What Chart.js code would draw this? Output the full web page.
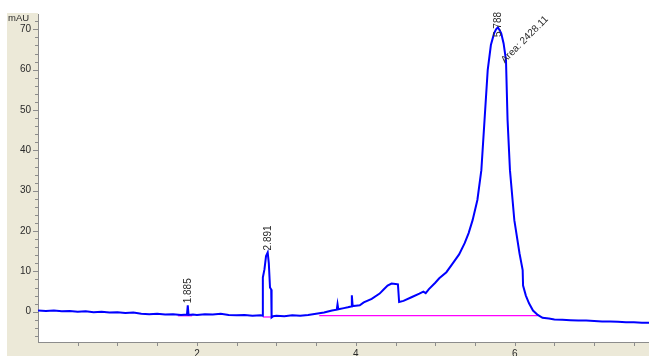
<!DOCTYPE html>
<html>
<head>
<meta charset="utf-8">
<script src="https://cdn.jsdelivr.net/npm/chart.js@4/dist/chart.umd.min.js"></script>
<style>
  html, body { margin: 0; padding: 0; background: #ffffff; }
  #wrap { width: 649px; height: 356px; }
</style>
</head>
<body>
<div id="wrap"><canvas id="c" width="649" height="356"></canvas></div>
<script>
// Detector trace: retention time (min) and absorbance (mAU)
const times = [
  0.00, 0.10, 0.20, 0.30, 0.40, 0.50, 0.60, 0.70, 0.80, 0.90,
  1.00, 1.10, 1.20, 1.30, 1.40, 1.50, 1.60, 1.70, 1.80, 1.875,
  1.885, 1.895, 1.95, 2.00, 2.10, 2.20, 2.30, 2.40, 2.50, 2.60,
  2.70, 2.80, 2.828, 2.830, 2.850, 2.870, 2.891, 2.905, 2.920, 2.935,
  2.940, 2.960, 3.00, 3.10, 3.20, 3.30, 3.40, 3.50, 3.60, 3.70,
  3.76, 3.77, 3.78, 3.85, 3.90, 3.94, 3.95, 3.96, 4.00, 4.05,
  4.10, 4.20, 4.30, 4.35, 4.40, 4.45, 4.50, 4.53, 4.545, 4.60,
  4.70, 4.80, 4.85, 4.88, 4.92, 5.00, 5.05, 5.14, 5.22, 5.30,
  5.37, 5.42, 5.47, 5.53, 5.58, 5.62, 5.66, 5.70, 5.74, 5.765,
  5.788, 5.81, 5.83, 5.86, 5.89, 5.91, 5.94, 5.995, 6.06, 6.10,
  6.105, 6.14, 6.18, 6.23, 6.29, 6.35, 6.43, 6.50, 6.60, 6.70,
  6.80, 6.90, 7.00, 7.10, 7.20, 7.30, 7.40, 7.50, 7.60, 7.69
];
const mAU = [
  0.3, 0.2, 0.3, 0.1, 0.2, 0.0, 0.1, -0.1, 0.0, -0.2,
  -0.1, -0.3, -0.2, -0.5, -0.6, -0.5, -0.7, -0.6, -0.8, -0.7,
  1.6, -0.8, -0.7, -0.8, -0.6, -0.7, -0.5, -0.8, -0.9, -0.8,
  -1.0, -0.9, -1.0, 8.5, 10.5, 13.8, 14.7, 12.0, 6.0, 5.5,
  -1.4, -1.1, -1.0, -1.1, -0.9, -1.0, -0.8, -0.5, -0.2, 0.3,
  0.5, 1.9, 0.6, 0.9, 1.1, 1.3, 4.1, 1.4, 1.5, 1.6,
  2.3, 3.2, 4.5, 5.5, 6.5, 7.0, 6.9, 6.8, 2.4, 2.7,
  3.6, 4.5, 5.0, 4.6, 5.6, 7.2, 8.3, 9.8, 12.0, 14.2,
  17.0, 19.5, 22.7, 27.7, 35.1, 47.5, 59.9, 66.1, 69.0, 70.0,
  70.5, 69.8, 69.0, 66.5, 62.4, 47.5, 35.1, 22.7, 14.5, 10.3,
  6.5, 4.0, 2.1, 0.3, -0.8, -1.5, -1.7, -1.9, -2.0, -2.1,
  -2.2, -2.2, -2.3, -2.4, -2.4, -2.5, -2.6, -2.6, -2.7, -2.7
];

// Integration baselines (start time, end time, level in mAU)
const baseStart = [1.76, 2.83, 3.54];
const baseEnd   = [1.94, 2.95, 6.29];
const baseLevel = [-1.0, -1.3, -0.95];

// Peak annotations
const peakTimes = [1.885, 2.891, 5.788];
const areaPeak = 5.788;
const areaValue = 2428.11;
const areaLabelLevel = 62;

// Axis tick values
const xLabelTicks = [2, 4, 6];
const yLabelStep = 10;

const BEIGE = '#ece9d8';
const AXIS = '#8c8c8c';
const TEXT = '#2a2a2a';

const trace = times.map((t, i) => ({ x: t, y: mAU[i] }));
const baselineSets = baseStart.map((s, i) => ({
  data: [{ x: s, y: baseLevel[i] }, { x: baseEnd[i], y: baseLevel[i] }],
  borderColor: '#ff00ff',
  borderWidth: 1.2,
  pointRadius: 0,
  tension: 0
}));

const framePlugin = {
  id: 'frame',
  beforeDraw(chart) {
    const { ctx, chartArea: a, width, height } = chart;
    ctx.save();
    ctx.fillStyle = '#ffffff';
    ctx.fillRect(0, 0, width, height);
    ctx.fillStyle = BEIGE;
    ctx.fillRect(7, 13, a.left - 7, height - 13);
    ctx.fillRect(7, a.bottom, width - 7, height - a.bottom);
    ctx.restore();
  },
  afterDraw(chart) {
    const { ctx, chartArea: a, scales } = chart;
    const xs = scales.x, ys = scales.y;
    ctx.save();
    // tick marks
    ctx.strokeStyle = AXIS;
    ctx.lineWidth = 1;
    ctx.beginPath();
    for (let v = -6; v <= 72; v += 2) {
      const y = Math.round(ys.getPixelForValue(v)) + 0.5;
      const len = (v % yLabelStep === 0) ? 5 : 3;
      ctx.moveTo(a.left - len, y);
      ctx.lineTo(a.left, y);
    }
    for (let v = 0.5; v <= 7.5; v += 0.5) {
      const x = Math.round(xs.getPixelForValue(v)) + 0.5;
      ctx.moveTo(x, a.bottom);
      ctx.lineTo(x, a.bottom + 4);
    }
    ctx.stroke();

    // unit label
    ctx.fillStyle = TEXT;
    ctx.font = '9.5px "Liberation Sans", Arial, sans-serif';
    ctx.textAlign = 'left';
    ctx.textBaseline = 'middle';
    ctx.fillText('mAU', 8, 18);

    // retention time labels
    ctx.font = '10px "Liberation Sans", Arial, sans-serif';
    peakTimes.forEach(t => {
      let top = -Infinity;
      times.forEach((tt, i) => { if (Math.abs(tt - t) < 0.03) top = Math.max(top, mAU[i]); });
      const label = t.toFixed(3);
      const w = ctx.measureText(label).width;
      const px = xs.getPixelForValue(t);
      let py = ys.getPixelForValue(top) - 2;
      if (py - w < 12) py = 12 + w;
      ctx.save();
      ctx.translate(px + 0.5, py);
      ctx.rotate(-Math.PI / 2);
      ctx.textAlign = 'left';
      ctx.textBaseline = 'middle';
      ctx.fillText(label, 0, 0);
      ctx.restore();
    });

    // area label
    ctx.save();
    ctx.translate(xs.getPixelForValue(areaPeak) + 5, ys.getPixelForValue(areaLabelLevel));
    ctx.rotate(-Math.PI / 4);
    ctx.textAlign = 'left';
    ctx.textBaseline = 'middle';
    ctx.fillText('Area: ' + areaValue.toFixed(2), 0, 0);
    ctx.restore();
    ctx.restore();
  }
};

new Chart(document.getElementById('c'), {
  type: 'line',
  data: {
    datasets: [
      { data: trace, borderColor: '#0000ff', borderWidth: 2, pointRadius: 0, tension: 0 },
      ...baselineSets
    ]
  },
  options: {
    responsive: false,
    animation: false,
    events: [],
    layout: { padding: { left: 7, top: 14, right: 0, bottom: 0 } },
    plugins: { legend: { display: false }, tooltip: { enabled: false } },
    scales: {
      x: {
        type: 'linear',
        min: 0,
        max: 7.69,
        afterFit(s) { s.height = 14; s.paddingLeft = 0; s.paddingRight = 0; },
        border: { display: true, color: AXIS },
        grid: { drawOnChartArea: false, drawTicks: false },
        ticks: {
          stepSize: 0.5,
          autoSkip: false,
          maxRotation: 0,
          padding: 6,
          color: TEXT,
          font: { family: '"Liberation Sans", Arial, sans-serif', size: 10 },
          callback: v => xLabelTicks.includes(v) ? String(v) : ''
        }
      },
      y: {
        type: 'linear',
        min: -7.5,
        max: 73.8,
        afterFit(s) { s.width = 31; s.paddingTop = 0; s.paddingBottom = 0; },
        border: { display: true, color: AXIS },
        grid: { drawOnChartArea: false, drawTicks: false },
        ticks: {
          stepSize: 2,
          autoSkip: false,
          padding: 7,
          color: TEXT,
          font: { family: '"Liberation Sans", Arial, sans-serif', size: 10 },
          callback: v => (Math.abs(v % yLabelStep) < 1e-9) ? String(v) : ''
        }
      }
    }
  },
  plugins: [framePlugin]
});
</script>
</body>
</html>
